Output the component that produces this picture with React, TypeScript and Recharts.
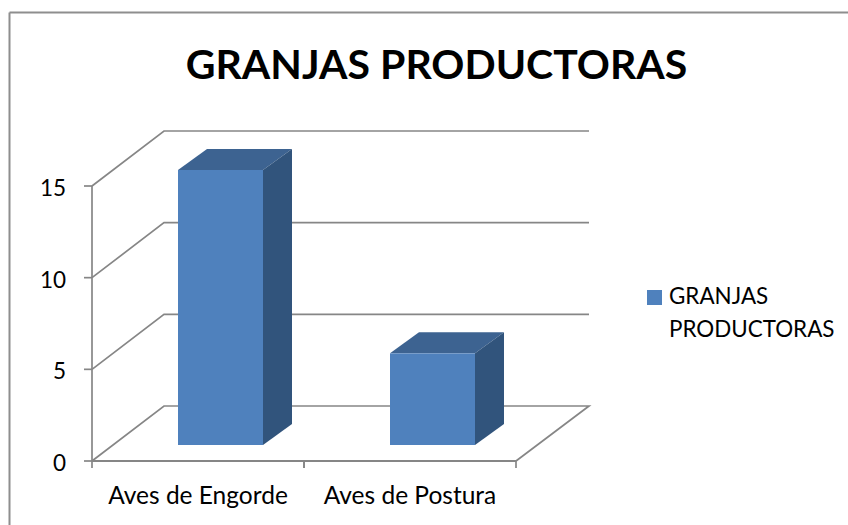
import { BarChart, Bar, XAxis, YAxis, CartesianGrid, Legend } from "recharts";

const categories = ["Aves de Engorde", "Aves de Postura"];
const granjas = [15, 5];
const yTicks = [0, 5, 10, 15];
const seriesName = "GRANJAS PRODUCTORAS";

const data = categories.map((name, i) => ({ name, granjas: granjas[i] }));

const FONT = "Lato, 'Open Sans', sans-serif";
const GREY = "#868686";

// fake 3D: how far the back wall sits from the front plane
const WALL_DX = 72;
const WALL_DY = -55;
// bars stand in the middle of the floor
const BAR_DX = 22;
const BAR_DY = -16;
// depth of the bar box itself
const BOX_DX = 29;
const BOX_DY = -21;

function GridLine(props: any) {
  const { x1, x2, y1, y, height } = props;
  const isFloor = Math.abs(y1 - (y + height)) < 1;
  const pts = [
    [x1, y1],
    [x1 + WALL_DX, y1 + WALL_DY],
    [x2 + WALL_DX + 1, y1 + WALL_DY],
  ];
  if (isFloor) pts.push([x2, y1]);
  return <polyline key={props.index} points={pts.map((p) => p.join(",")).join(" ")} fill="none" stroke={GREY} strokeWidth={1.7} />;
}

function Box3D(props: any) {
  const { x, y, width, height } = props;
  const l = x + BAR_DX;
  const r = l + width;
  const t = y + BAR_DY;
  const b = t + height;
  return (
    <g>
      <polygon points={`${l},${t} ${l + BOX_DX},${t + BOX_DY} ${r + BOX_DX},${t + BOX_DY} ${r},${t}`} fill="#3D6391" />
      <polygon points={`${r},${t} ${r + BOX_DX},${t + BOX_DY} ${r + BOX_DX},${b + BOX_DY} ${r},${b}`} fill="#31547C" />
      <rect x={l} y={t} width={width} height={height} fill="#4F81BD" />
    </g>
  );
}

function CategoryTick(props: any) {
  const { x, y, payload, width, visibleTicksCount } = props;
  const half = width / visibleTicksCount / 2;
  return (
    <g>
      <line x1={x - half} x2={x - half} y1={y} y2={y + 7} stroke={GREY} strokeWidth={1.7} />
      <line x1={x + half} x2={x + half} y1={y} y2={y + 7} stroke={GREY} strokeWidth={1.7} />
      <text x={x} y={y + 43} textAnchor="middle" fontSize={24.5} fontFamily={FONT} fill="#000">
        {payload.value}
      </text>
    </g>
  );
}

function LegendBox(props: any) {
  const item = props.payload?.[0];
  return (
    <div style={{ display: "flex", fontFamily: FONT, fontSize: 22.4, lineHeight: "33px", color: "#000" }}>
      <span style={{ width: 15, height: 15, marginTop: 5, marginRight: 7, background: "#4F81BD", flexShrink: 0 }} />
      <span style={{ marginTop: -6 }}>{item?.value}</span>
    </div>
  );
}

export default function App() {
  return (
    <div style={{ position: "absolute", left: 0, top: 0, width: 848, height: 525, background: "#fff" }}>
      <BarChart width={848} height={525} data={data} margin={{ top: 186, right: 332, left: 0, bottom: 0 }}>
        <line x1={9.5} y1={12.5} x2={848} y2={12.5} stroke="#8E8E8E" strokeWidth={2} />
        <line x1={9.5} y1={12.5} x2={9.5} y2={525} stroke="#8E8E8E" strokeWidth={2} />
        <text x={436.5} y={79} textAnchor="middle" fontSize={41} fontWeight={700} fontFamily={FONT} fill="#000">
          {seriesName}
        </text>
        <CartesianGrid vertical={false} horizontal={(p: any) => <GridLine {...p} />} />
        <XAxis
          dataKey="name"
          height={64}
          axisLine={{ stroke: GREY, strokeWidth: 2 }}
          tickLine={false}
          tickSize={0}
          tickMargin={0}
          interval={0}
          tick={<CategoryTick />}
        />
        <YAxis
          width={92}
          domain={[0, 15]}
          ticks={yTicks}
          axisLine={{ stroke: GREY, strokeWidth: 1.7 }}
          tickLine={{ stroke: GREY, strokeWidth: 1.7 }}
          tickSize={8}
          tickMargin={18}
          tick={{ fontSize: 22.5, fontFamily: FONT, fill: "#000", dy: 2 }}
        />
        <Legend
          layout="vertical"
          align="center"
          verticalAlign="middle"
          content={<LegendBox />}
          wrapperStyle={{ left: 647, top: 285, width: 195, bottom: "auto", right: "auto" }}
        />
        <Bar dataKey="granjas" name={seriesName} fill="#4F81BD" barSize={85} shape={<Box3D />} isAnimationActive={false} />
      </BarChart>
    </div>
  );
}
